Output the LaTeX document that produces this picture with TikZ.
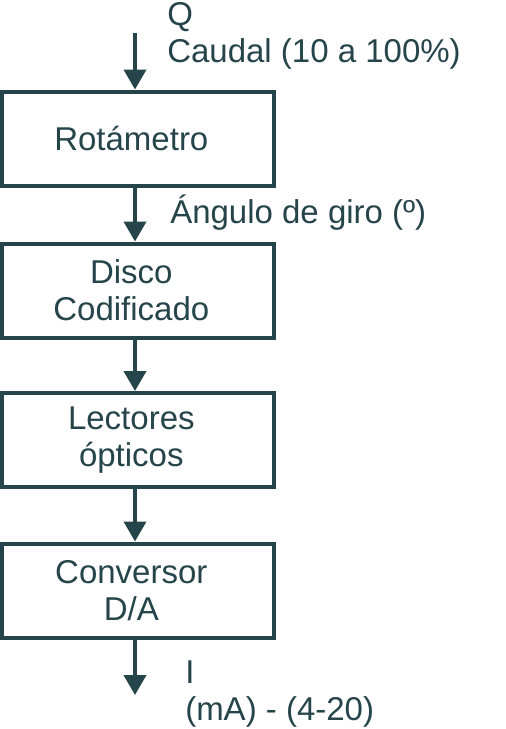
\documentclass[tikz,border=0pt]{standalone}
\usepackage[RGB]{xcolor}
\usepackage{fontspec}
\setmainfont{Liberation Sans}
\usetikzlibrary{arrows.meta}
\definecolor{linea}{RGB}{37,69,75}
\tikzset{
  bloque/.style={draw=linea, line width=3pt, minimum width=204pt, minimum height=70.5pt, inner sep=0pt},
  texto/.style={text=linea, font=\fontsize{24.75}{27.75}\selectfont, inner sep=0pt},
  flecha/.style={draw=linea, line width=3pt, -{Triangle[width=16.5pt,length=15pt]}}
}
\begin{document}
\begin{tikzpicture}[x=0.75pt,y=-0.75pt]
\useasboundingbox (0,0) rectangle (506,729);
% bloques
\node[bloque, label={[texto, xshift=-5pt]center:Rotámetro}] (rot) at (138,138.5) {};
\node[bloque, label={[texto, xshift=-5pt, align=center]center:Disco\\Codificado}] (disco) at (138,290.5) {};
\node[bloque, label={[texto, xshift=-5pt, align=center]center:Lectores\\ópticos}] (lect) at (138,440) {};
\node[bloque, label={[texto, xshift=-5pt, align=center]center:Conversor\\D/A}] (conv) at (138,590.5) {};
% entrada y salida
\coordinate (ent) at (135,33);
\coordinate (sal) at (135,695);
\draw[flecha] (ent) -- (ent |- rot.north);
\draw[flecha] (rot.south -| ent) -- (disco.north -| ent);
\draw[flecha] (disco.south -| ent) -- (lect.north -| ent);
\draw[flecha] (lect.south -| ent) -- (conv.north -| ent);
\draw[flecha] (conv.south -| ent) -- (sal);
% textos
\node[texto, anchor=base west] (q) at (167,25) {Q};
\node[texto, anchor=base west] (caudal) at (167,62) {Caudal (10 a 100\%)};
\node[texto, anchor=base west] (angulo) at (170,223) {Ángulo de giro (º)};
\node[texto, anchor=base west] (i) at (185,683) {I};
\node[texto, anchor=base west] (ma) at (185,720) {(mA) - (4-20)};
\end{tikzpicture}
\end{document}
